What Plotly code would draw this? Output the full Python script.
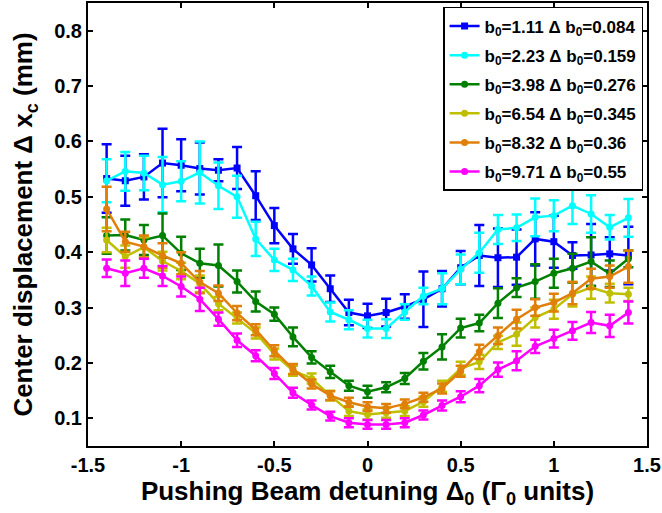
import plotly.graph_objects as go

detuning = [round(-1.4 + 0.1 * i, 1) for i in range(29)]

labels = [
    "b<sub>0</sub>=1.11 Δ b<sub>0</sub>=0.084",
    "b<sub>0</sub>=2.23 Δ b<sub>0</sub>=0.159",
    "b<sub>0</sub>=3.98 Δ b<sub>0</sub>=0.276",
    "b<sub>0</sub>=6.54 Δ b<sub>0</sub>=0.345",
    "b<sub>0</sub>=8.32 Δ b<sub>0</sub>=0.36",
    "b<sub>0</sub>=9.71 Δ b<sub>0</sub>=0.55",
]

blue = [0.533, 0.529, 0.536, 0.561, 0.557, 0.551, 0.548, 0.552, 0.502, 0.448, 0.406, 0.377, 0.334, 0.291, 0.285,
        0.291, 0.302, 0.315, 0.334, 0.372, 0.394, 0.390, 0.391, 0.424, 0.419, 0.394, 0.395, 0.397, 0.394]
blue_err = [0.062, 0.045, 0.041, 0.062, 0.047, 0.047, 0.020, 0.038, 0.044, 0.032, 0.027, 0.030, 0.024, 0.023, 0.022,
            0.025, 0.022, 0.050, 0.032, 0.030, 0.055, 0.053, 0.050, 0.048, 0.047, 0.024, 0.056, 0.030, 0.052]

cyan = [0.529, 0.546, 0.543, 0.522, 0.528, 0.544, 0.520, 0.500, 0.424, 0.386, 0.368, 0.339, 0.292, 0.278, 0.262,
        0.262, 0.292, 0.321, 0.334, 0.369, 0.399, 0.441, 0.444, 0.463, 0.466, 0.484, 0.469, 0.445, 0.462]
cyan_err = [0.039, 0.035, 0.031, 0.050, 0.036, 0.056, 0.042, 0.038, 0.031, 0.020, 0.020, 0.017, 0.017, 0.017, 0.016,
            0.017, 0.014, 0.015, 0.028, 0.027, 0.036, 0.026, 0.024, 0.034, 0.028, 0.033, 0.034, 0.022, 0.034]

green = [0.430, 0.431, 0.422, 0.430, 0.398, 0.380, 0.376, 0.347, 0.311, 0.288, 0.247, 0.210, 0.184, 0.159, 0.148,
         0.156, 0.172, 0.203, 0.229, 0.263, 0.272, 0.308, 0.336, 0.347, 0.362, 0.371, 0.383, 0.361, 0.388]
green_err = [0.033, 0.028, 0.027, 0.040, 0.030, 0.026, 0.038, 0.020, 0.018, 0.012, 0.017, 0.011, 0.011, 0.009, 0.011,
             0.009, 0.010, 0.015, 0.023, 0.017, 0.015, 0.027, 0.017, 0.031, 0.026, 0.026, 0.044, 0.024, 0.015]

yellow = [0.422, 0.392, 0.409, 0.384, 0.366, 0.343, 0.307, 0.281, 0.254, 0.216, 0.186, 0.172, 0.141, 0.113, 0.107,
          0.110, 0.113, 0.130, 0.158, 0.190, 0.202, 0.237, 0.252, 0.282, 0.297, 0.324, 0.336, 0.326, 0.324]
yellow_err = [0.022, 0.020, 0.018, 0.017, 0.015, 0.015, 0.012, 0.010, 0.010, 0.010, 0.009, 0.009, 0.009, 0.009, 0.009,
              0.009, 0.009, 0.009, 0.010, 0.012, 0.013, 0.012, 0.021, 0.018, 0.017, 0.022, 0.020, 0.017, 0.012]

orange = [0.478, 0.419, 0.410, 0.394, 0.380, 0.346, 0.326, 0.290, 0.260, 0.222, 0.189, 0.162, 0.141, 0.129, 0.121,
          0.118, 0.126, 0.138, 0.154, 0.185, 0.220, 0.249, 0.279, 0.300, 0.309, 0.326, 0.352, 0.356, 0.374]
orange_err = [0.040, 0.018, 0.020, 0.022, 0.020, 0.020, 0.014, 0.013, 0.010, 0.010, 0.009, 0.008, 0.008, 0.008, 0.008,
              0.008, 0.008, 0.008, 0.009, 0.010, 0.013, 0.015, 0.017, 0.015, 0.016, 0.020, 0.018, 0.020, 0.029]

magenta = [0.371, 0.362, 0.371, 0.357, 0.338, 0.315, 0.279, 0.241, 0.213, 0.181, 0.146, 0.124, 0.104, 0.092, 0.089,
           0.089, 0.092, 0.106, 0.123, 0.139, 0.159, 0.188, 0.204, 0.230, 0.244, 0.258, 0.273, 0.267, 0.291]
magenta_err = [0.016, 0.023, 0.017, 0.018, 0.018, 0.021, 0.012, 0.012, 0.010, 0.010, 0.009, 0.008, 0.008, 0.008, 0.008,
               0.008, 0.008, 0.008, 0.009, 0.010, 0.012, 0.013, 0.017, 0.012, 0.016, 0.016, 0.019, 0.020, 0.020]

x_ticks = [-1.5, -1, -0.5, 0, 0.5, 1, 1.5]
x_tick_text = ["-1.5", "-1", "-0.5", "0", "0.5", "1", "1.5"]
y_ticks = [0.1, 0.2, 0.3, 0.4, 0.5, 0.6, 0.7, 0.8]
y_tick_text = ["0.1", "0.2", "0.3", "0.4", "0.5", "0.6", "0.7", "0.8"]

series = [blue, cyan, green, yellow, orange, magenta]
errors = [blue_err, cyan_err, green_err, yellow_err, orange_err, magenta_err]
colors = ["#0000FF", "#00FFFF", "#008000", "#BFBF00", "#E07F0A", "#FF00FF"]
symbols = ["square", "circle", "circle", "circle", "circle", "circle"]

fig = go.Figure()
for k, (ys, es, c, s, name) in enumerate(zip(series, errors, colors, symbols, labels)):
    fig.add_trace(go.Scatter(
        x=detuning, y=ys, name=name, mode="lines+markers", legendgroup="g%d" % k,
        line=dict(color=c, width=2.5),
        marker=dict(color=c, symbol=s, size=7),
        error_y=dict(type="data", array=es, visible=True, color=c, thickness=2.5, width=5),
    ))

font_family = "Liberation Sans, Arial, sans-serif"
fig.update_layout(
    width=662, height=513,
    margin=dict(l=88, r=15, t=3, b=67, autoexpand=False),
    paper_bgcolor="white", plot_bgcolor="white",
    font=dict(family=font_family, color="black"),
    showlegend=True,
    legend=dict(
        x=0.993, y=0.991, xanchor="right", yanchor="top",
        bgcolor="white", bordercolor="black", borderwidth=1.5,
        font=dict(size=17, weight="bold", family=font_family),
        itemwidth=30, tracegroupgap=4,
    ),
)
fig.update_xaxes(
    range=[-1.5, 1.5], tickvals=x_ticks, ticktext=x_tick_text,
    showline=True, linecolor="black", linewidth=2, mirror="ticks",
    ticks="inside", ticklen=5, tickwidth=1.5, tickcolor="black",
    showgrid=False, zeroline=False, automargin=False,
    tickfont=dict(size=20, weight="bold"),
    title=dict(text="Pushing Beam detuning Δ<sub>0</sub> (Γ<sub>0</sub> units)",
               font=dict(size=26, weight="bold"), standoff=0),
)
fig.update_yaxes(
    range=[0.05, 0.85], tickvals=y_ticks, ticktext=y_tick_text,
    showline=True, linecolor="black", linewidth=2, mirror="ticks",
    ticks="inside", ticklen=5, tickwidth=1.5, tickcolor="black",
    showgrid=False, zeroline=False, automargin=False,
    tickfont=dict(size=20, weight="bold"),
    title=dict(text="Center displacement Δ x<sub>c</sub> (mm)",
               font=dict(size=26, weight="bold"), standoff=14),
)

fig.write_html(
    "out.html",
    config={"displayModeBar": False},
    post_script="document.body.style.margin='0';document.body.style.overflow='hidden';",
)
